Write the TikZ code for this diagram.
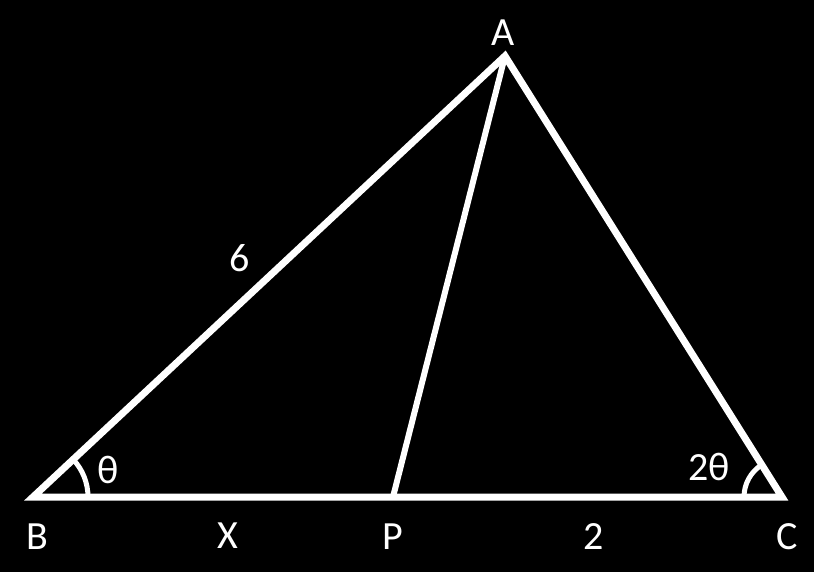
\documentclass[tikz,border=0pt]{standalone}
\usepackage{fontspec}
\setmainfont{Carlito}
\usetikzlibrary{angles}
\tikzset{
  side/.style={draw=white,line width=7pt},
  lbl/.style={text=white,font=\fontsize{40}{42}\selectfont,inner sep=0pt},
  ang/.style={draw=white,line width=5pt}
}
\begin{document}
\begin{tikzpicture}[x=1pt,y=-1pt]
		\fill[black] (0,0) rectangle (814,572);
		\useasboundingbox (0,0) rectangle (814,572);
		\coordinate (B) at (33,497);
		\coordinate (C) at (782,497);
		\coordinate (A) at (505,56);
		\coordinate (P) at (393,497);
		\draw[side] (A) -- (B) -- (C) -- cycle;
		\draw[side,line width=6pt] (A) -- (P);
		\pic[ang,angle radius=55pt] {angle = P--B--A};
		\pic[ang,angle radius=38pt] {angle = A--C--B};
		\node[lbl](la) at (503,33) {A};
		\node[lbl](lb) at (37,537) {B};
		\node[lbl](lc) at (787,537) {C};
		\node[lbl](lp) at (393,537) {P};
		\node[lbl](lx) at (228,536) {X};
		\node[lbl](l2) at (594,537) {2};
		\node[lbl](l6) at (240,258) {6};
		\node[lbl](lt) at (108,470) {θ};
		\node[lbl](l2t) at (709,467) {2θ};
\end{tikzpicture}
\end{document}
